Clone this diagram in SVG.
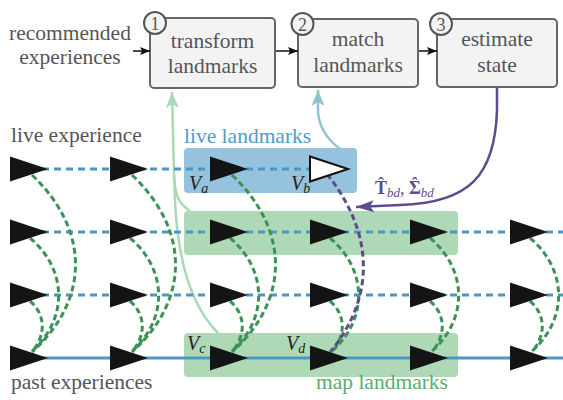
<svg xmlns="http://www.w3.org/2000/svg" width="563" height="400" viewBox="0 0 563 400">
<defs>
<style>
text{font-family:'Liberation Serif','DejaVu Serif','Times New Roman',serif}
.txt{font-size:21.5px;fill:#555}
.mid{text-anchor:middle}
.box{fill:#f3f3f3;stroke:#666;stroke-width:2}
.num{fill:#f3f3f3;stroke:#555;stroke-width:2}
.numt{font-size:18px;fill:#555;text-anchor:middle}
.var{font-style:italic;font-size:20px;fill:#222}
.sub{font-size:14px}
.bl{stroke:#4a97c5;stroke-width:3;fill:none}
.bld{stroke-dasharray:7 5}
.gr{stroke:#3a9256;stroke-width:3;fill:none;stroke-dasharray:6 3.5}
.pu{stroke:#5e4a8c;stroke-width:3;fill:none;stroke-dasharray:6 3.5}
.tri{fill:#141414}
</style>
<path id="tri" d="M0,-12.5 L38,0 L0,12.5 Z"/>
<g id="arcs">
<path d="M32 175 C90 230 90 300 32 352"/>
<path d="M30 238 C68 270 68 320 31 352"/>
<path d="M30 301 C46 315 46 335 32 352"/>
</g>
<g id="arcs2">
<path d="M30 238 C68 270 68 320 31 352"/>
<path d="M30 301 C46 315 46 335 32 352"/>
</g>
<marker id="ahk" markerUnits="userSpaceOnUse" markerWidth="12" markerHeight="10" viewBox="0 0 12 10" refX="11" refY="5" orient="auto"><path d="M1,1 L11,5 L1,9 L3,5 Z" fill="#111"/></marker>
<marker id="ahg" markerUnits="userSpaceOnUse" markerWidth="18" markerHeight="16" viewBox="0 0 18 16" refX="17" refY="8" orient="auto"><path d="M1,1.5 L17,8 L1,14.5 L5,8 Z" fill="#a9d8b5"/></marker>
<marker id="aht" markerUnits="userSpaceOnUse" markerWidth="18" markerHeight="16" viewBox="0 0 18 16" refX="17" refY="8" orient="auto"><path d="M1,1.5 L17,8 L1,14.5 L5,8 Z" fill="#8fc4cf"/></marker>
<marker id="ahp" markerUnits="userSpaceOnUse" markerWidth="20" markerHeight="16" viewBox="0 0 20 16" refX="19" refY="8" orient="auto"><path d="M1,2 L19,8 L1,14 L5,8 Z" fill="#5e4a8c"/></marker>
</defs>
<rect width="563" height="400" fill="#fff"/>

<g id="regions">
<rect id="live-landmarks-box" x="184" y="148" width="173" height="45" rx="4" fill="#95c3dd"/>
<rect id="map-box-1" x="184" y="211" width="274" height="44" rx="4" fill="#afd8b7"/>
<rect id="map-box-2" x="184" y="333" width="274" height="44" rx="4" fill="#afd8b7"/>
</g>

<g id="pipeline">
<g id="node-transform">
<rect class="box" x="150" y="18" width="125" height="70" rx="4"/>
<circle class="num" cx="155" cy="23" r="11"/>
<text class="numt" x="155" y="29.5">1</text>
<text class="txt mid" x="212.5" y="48">transform</text>
<text class="txt mid" x="212.5" y="73">landmarks</text>
</g>
<g id="node-match">
<rect class="box" x="298" y="19" width="120" height="68" rx="4"/>
<circle class="num" cx="302.5" cy="24" r="11"/>
<text class="numt" x="302.5" y="30.5">2</text>
<text class="txt mid" x="358" y="46">match</text>
<text class="txt mid" x="358" y="72">landmarks</text>
</g>
<g id="node-estimate">
<rect class="box" x="437" y="19" width="120" height="68" rx="4"/>
<circle class="num" cx="441" cy="24" r="11"/>
<text class="numt" x="441" y="30.5">3</text>
<text class="txt mid" x="497" y="46">estimate</text>
<text class="txt mid" x="497" y="72">state</text>
</g>
</g>

<g id="connectors">
<line x1="133" y1="51" x2="150" y2="51" stroke="#111" stroke-width="1.5" marker-end="url(#ahk)"/>
<line x1="276" y1="51" x2="298" y2="51" stroke="#111" stroke-width="1.5" marker-end="url(#ahk)"/>
<line x1="419" y1="51" x2="437" y2="51" stroke="#111" stroke-width="1.5" marker-end="url(#ahk)"/>
<path d="M218 333 C195 310 178 270 175 200 L174 175" stroke="#a9d8b5" stroke-width="2.5" fill="none"/>
<path d="M190 211 C178 203 175 195 174 175 L172 92" stroke="#a9d8b5" stroke-width="2.5" fill="none" marker-end="url(#ahg)"/>
<path d="M340 149 C324 137 319 125 318 112 L318 90" stroke="#8fc4cf" stroke-width="2.5" fill="none" marker-end="url(#aht)"/>
<path d="M497 88 L497 110 C495 175 470 203 400 205 L356 207" stroke="#5e4a8c" stroke-width="2.5" fill="none" marker-end="url(#ahp)"/>
</g>

<g id="experience-lines">
<line class="bl bld" x1="30" y1="169" x2="335" y2="169"/>
<line class="bl bld" x1="30" y1="232" x2="563" y2="232"/>
<line class="bl bld" x1="30" y1="295" x2="563" y2="295"/>
<line class="bl" x1="30" y1="358" x2="563" y2="358"/>
</g>

<g id="associations">
<use href="#arcs" class="gr"/>
<use href="#arcs" class="gr" transform="translate(100 0)"/>
<use href="#arcs" class="gr" transform="translate(200 0)"/>
<use href="#arcs2" class="gr" transform="translate(300 0)"/>
<use href="#arcs2" class="gr" transform="translate(400 0)"/>
<use href="#arcs2" class="gr" transform="translate(500 0)"/>
<path class="pu" d="M327 174 C378 238 372 302 330 352"/>
</g>

<g id="vertices">
<use href="#tri" class="tri" x="10" y="169"/>
<use href="#tri" class="tri" x="110" y="169"/>
<use href="#tri" class="tri" x="210" y="169"/>
<path d="M310 156.5 L348 169 L310 181.5 Z" fill="#fff" stroke="#111" stroke-width="2"/>
<use href="#tri" class="tri" x="10" y="232"/>
<use href="#tri" class="tri" x="110" y="232"/>
<use href="#tri" class="tri" x="210" y="232"/>
<use href="#tri" class="tri" x="310" y="232"/>
<use href="#tri" class="tri" x="410" y="232"/>
<use href="#tri" class="tri" x="510" y="232"/>
<use href="#tri" class="tri" x="10" y="295"/>
<use href="#tri" class="tri" x="110" y="295"/>
<use href="#tri" class="tri" x="210" y="295"/>
<use href="#tri" class="tri" x="310" y="295"/>
<use href="#tri" class="tri" x="410" y="295"/>
<use href="#tri" class="tri" x="510" y="295"/>
<use href="#tri" class="tri" x="10" y="358"/>
<use href="#tri" class="tri" x="110" y="358"/>
<use href="#tri" class="tri" x="210" y="358"/>
<use href="#tri" class="tri" x="310" y="358"/>
<use href="#tri" class="tri" x="410" y="358"/>
<use href="#tri" class="tri" x="510" y="358"/>
</g>

<g id="labels">
<text class="txt mid" x="70" y="40">recommended</text>
<text class="txt mid" x="70" y="64">experiences</text>
<text class="txt" x="11" y="142">live experience</text>
<text class="txt" x="184" y="143" style="fill:#4f9cc8">live landmarks</text>
<text class="txt" x="11" y="389">past experiences</text>
<text class="txt" x="316" y="389" style="fill:#5aae69">map landmarks</text>
<text class="var" x="189" y="190">V<tspan class="sub" dy="3">a</tspan></text>
<text class="var" x="291" y="190">V<tspan class="sub" dy="3">b</tspan></text>
<text class="var" x="187" y="350">V<tspan class="sub" dy="3">c</tspan></text>
<text class="var" x="286" y="350">V<tspan class="sub" dy="3">d</tspan></text>
<text x="375" y="194" font-size="18" fill="#5e4a8c"><tspan font-weight="bold">T</tspan><tspan dx="-9" dy="-4">ˆ</tspan><tspan font-style="italic" font-size="13" dx="3" dy="7">bd</tspan><tspan dy="-3">, </tspan><tspan font-weight="bold">Σ</tspan><tspan dx="-9" dy="-4">ˆ</tspan><tspan font-style="italic" font-size="13" dx="3" dy="7">bd</tspan></text>
</g>
</svg>
